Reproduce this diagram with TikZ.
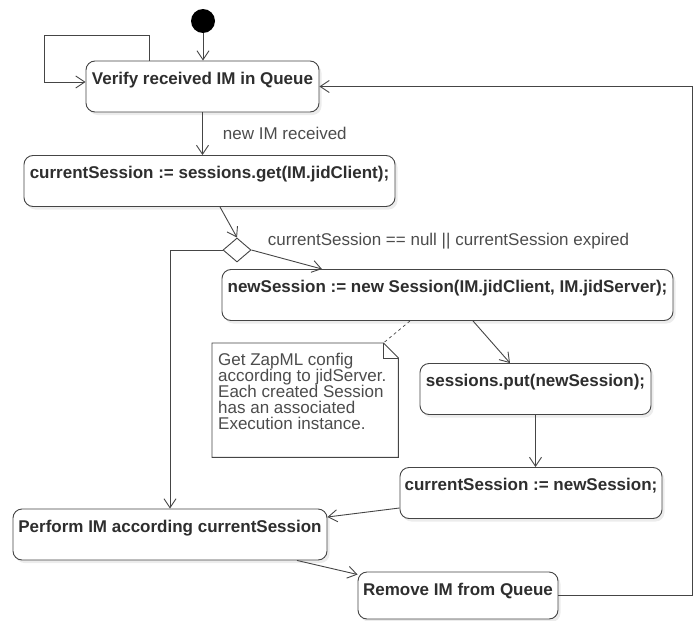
\documentclass[tikz,border=0pt]{standalone}
\usepackage{fontspec}
\setmainfont{Liberation Sans}
\usepackage{xcolor}
\usetikzlibrary{shapes.geometric,arrows.meta,positioning,calc,shadows}
\definecolor{umlLine}{gray}{0.27}
\definecolor{umlText}{gray}{0.18}
\definecolor{umlGuard}{gray}{0.30}

\begin{document}
\begin{tikzpicture}[x=1pt, y=-1pt,
      act/.style={draw=umlLine, line width=0.9pt, rounded corners=9pt, fill=white,
                  text=umlText, font=\fontsize{17}{17}\selectfont\bfseries,
                  text height=19pt, text depth=24pt, inner xsep=4pt, inner ysep=4pt,
                  drop shadow={shadow xshift=2.5pt, shadow yshift=-3pt, opacity=0.15}},
      guard/.style={text=umlGuard, font=\fontsize{17}{17}\selectfont, inner sep=0pt},
      choice/.style={diamond, draw=umlLine, line width=0.9pt, fill=white,
                  minimum width=28pt, minimum height=24pt, inner sep=0pt},
      memo/.style={text=umlGuard, font=\fontsize{17}{16}\selectfont,
                  inner xsep=6pt, inner ysep=10pt, anchor=north west},
      memoline/.style={draw=umlLine, line width=0.9pt},
      flow/.style={-{Straight Barb[length=9pt,width=12pt]}, line width=0.9pt, draw=umlLine}]

    \useasboundingbox (0,0) rectangle (696,621);

    \node[circle, fill=black, minimum size=24pt, inner sep=0pt] (start) at (203,21) {};

    \node[act, minimum width=233pt] (verify) at (202.5,86.5) {Verify received IM in Queue};
    \node[act, minimum width=371pt] (getSess) at (209.5,181)
      {currentSession := sessions.get(IM.jidClient);};
    \node[choice] (check) at (237,250) {};
    \node[act, minimum width=451pt] (newSess) at (447.5,295)
      {newSession := new Session(IM.jidClient, IM.jidServer);};
    \node[act, minimum width=231pt] (putSess) at (535.5,389) {sessions.put(newSession);};
    \node[act, minimum width=262pt] (setSess) at (531,493) {currentSession := newSession;};
    \node[act, minimum width=314pt] (perform) at (170,534.5) {Perform IM according currentSession};
    \node[act, minimum width=200pt, text depth=20pt] (remove) at (458,595.5) {Remove IM from Queue};

    % note attached to the new session
    \node[memo] (note) at (212,343) {\parbox[t][94pt][t]{174pt}{Get ZapML config\\
      according to jidServer.\\ Each created Session\\ has an associated\\ Execution instance.}};
    \draw[memoline] (note.north west) -- ([xshift=-15pt]note.north east)
      -- ([yshift=-15pt]note.north east) -- (note.south east) -- (note.south west) -- cycle;
    \draw[memoline] ([xshift=-15pt]note.north east) -- ++(0,15) -- ++(15,0);
    \draw[memoline, dashed, line width=0.7pt] ([xshift=-37.5pt]newSess.south)
      -- ([xshift=-15pt]note.north east);

    \draw[flow] (start) -- (start |- verify.north);
    \draw[flow] ([xshift=-53.5pt]verify.north) |- (44,35) |- ([yshift=4.5pt]verify.west);
    \draw[flow] (verify.south) -- node[guard, anchor=west, xshift=20pt]{new IM received}
      (verify.south |- getSess.north);
    \draw[flow] ([xshift=10.5pt]getSess.south) -- (check.north);
    \draw[flow] (check.east) -- node[guard, at start, anchor=west, xshift=16pt, yshift=9pt]
      {currentSession == null || currentSession expired} ([xshift=-125.5pt]newSess.north);
    \draw[flow] (check.west) -| (perform.north);
    \draw[flow] ([xshift=25.5pt]newSess.south) -- ([xshift=-25.5pt]putSess.north);
    \draw[flow] (putSess.south) -- (putSess.south |- setSess.north);
    \draw[flow] ([yshift=-15pt]setSess.west) -- ([yshift=17.5pt]perform.east);
    \draw[flow] ([xshift=127pt]perform.south) -- ([yshift=21pt]remove.west);
    \draw[flow] (remove.east) -| ([xshift=373pt]verify.east) -- (verify.east);
  \end{tikzpicture}
\end{document}
